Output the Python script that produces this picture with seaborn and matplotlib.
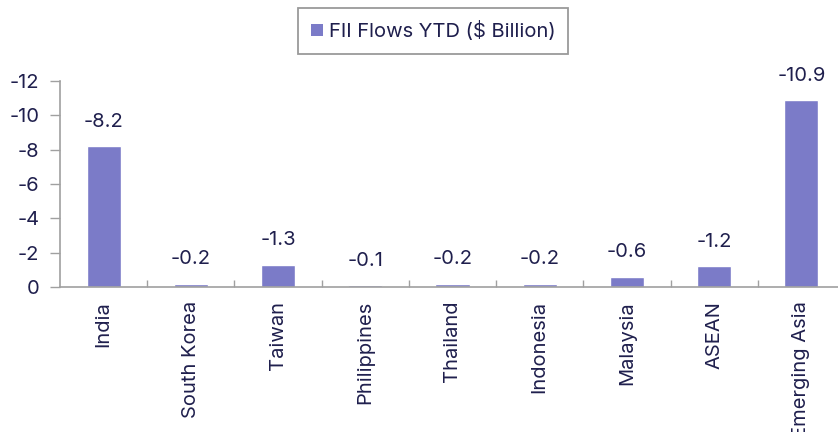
import matplotlib
matplotlib.use("Agg")
import matplotlib.pyplot as plt
import seaborn as sns
import pandas as pd
from matplotlib.ticker import FixedLocator
from matplotlib.patches import Patch

categories = ["India", "South Korea", "Taiwan", "Philippines", "Thailand",
              "Indonesia", "Malaysia", "ASEAN", "Emerging Asia"]
values = [-8.2, -0.2, -1.3, -0.1, -0.2, -0.2, -0.6, -1.2, -10.9]
yticks = [0, -2, -4, -6, -8, -10, -12]
series_name = "FII Flows YTD ($ Billion)"

bar_color = "#7b7bc8"
text_color = "#1f1f4d"
spine_color = "#a0a0a0"

sns.set_theme(style="white")
plt.rcParams["font.family"] = ["Inter", "DejaVu Sans"]

df = pd.DataFrame({"cat": categories, "val": values})

fig = plt.figure(figsize=(8.38, 4.32), dpi=100)
ax = fig.add_axes([60 / 838, 145 / 432, 785 / 838, 206 / 432])
sns.barplot(data=df, x="cat", y="val", color=bar_color, width=0.39,
            saturation=1, ax=ax)

fs = 14.5
ax.set_ylim(0, -12)
ax.set_xlim(-0.5, len(categories) - 0.5)
ax.set_yticks(yticks)
ax.set_yticklabels([str(t) for t in yticks], color=text_color, fontsize=fs)
ax.set_xticks(range(len(categories)))
ax.set_xticklabels(categories, rotation=90, color=text_color, fontsize=fs)
ax.set_xlabel("")
ax.set_ylabel("")

ax.tick_params(axis="x", which="major", length=0, pad=10)
ax.xaxis.set_minor_locator(FixedLocator([i + 0.5 for i in range(len(categories) - 1)]))
ax.tick_params(axis="x", which="minor", direction="in", length=5, width=1,
               color=spine_color, bottom=True)
ax.tick_params(axis="y", which="major", direction="out", length=7, width=1,
               color=spine_color, left=True, pad=8)

for s in ["top", "right"]:
    ax.spines[s].set_visible(False)
for s in ["left", "bottom"]:
    ax.spines[s].set_color(spine_color)
    ax.spines[s].set_linewidth(1.2)

for i, v in enumerate(values):
    ax.annotate(f"{v:.1f}", xy=(i, v), xytext=(0, 11), textcoords="offset points",
                ha="center", va="bottom", fontsize=fs, color=text_color)

handle = Patch(facecolor=bar_color, edgecolor="none")
leg = fig.legend([handle], [series_name], loc="center",
                 bbox_to_anchor=(433 / 838, 1 - 31 / 432), fontsize=fs,
                 frameon=True, fancybox=False, handlelength=0.6, handleheight=0.6,
                 handletextpad=0.3, borderpad=0.65, borderaxespad=0)
leg.get_frame().set_edgecolor("#808080")
leg.get_frame().set_linewidth(1.3)
for t in leg.get_texts():
    t.set_color(text_color)

fig.savefig("out.png", dpi=100)
